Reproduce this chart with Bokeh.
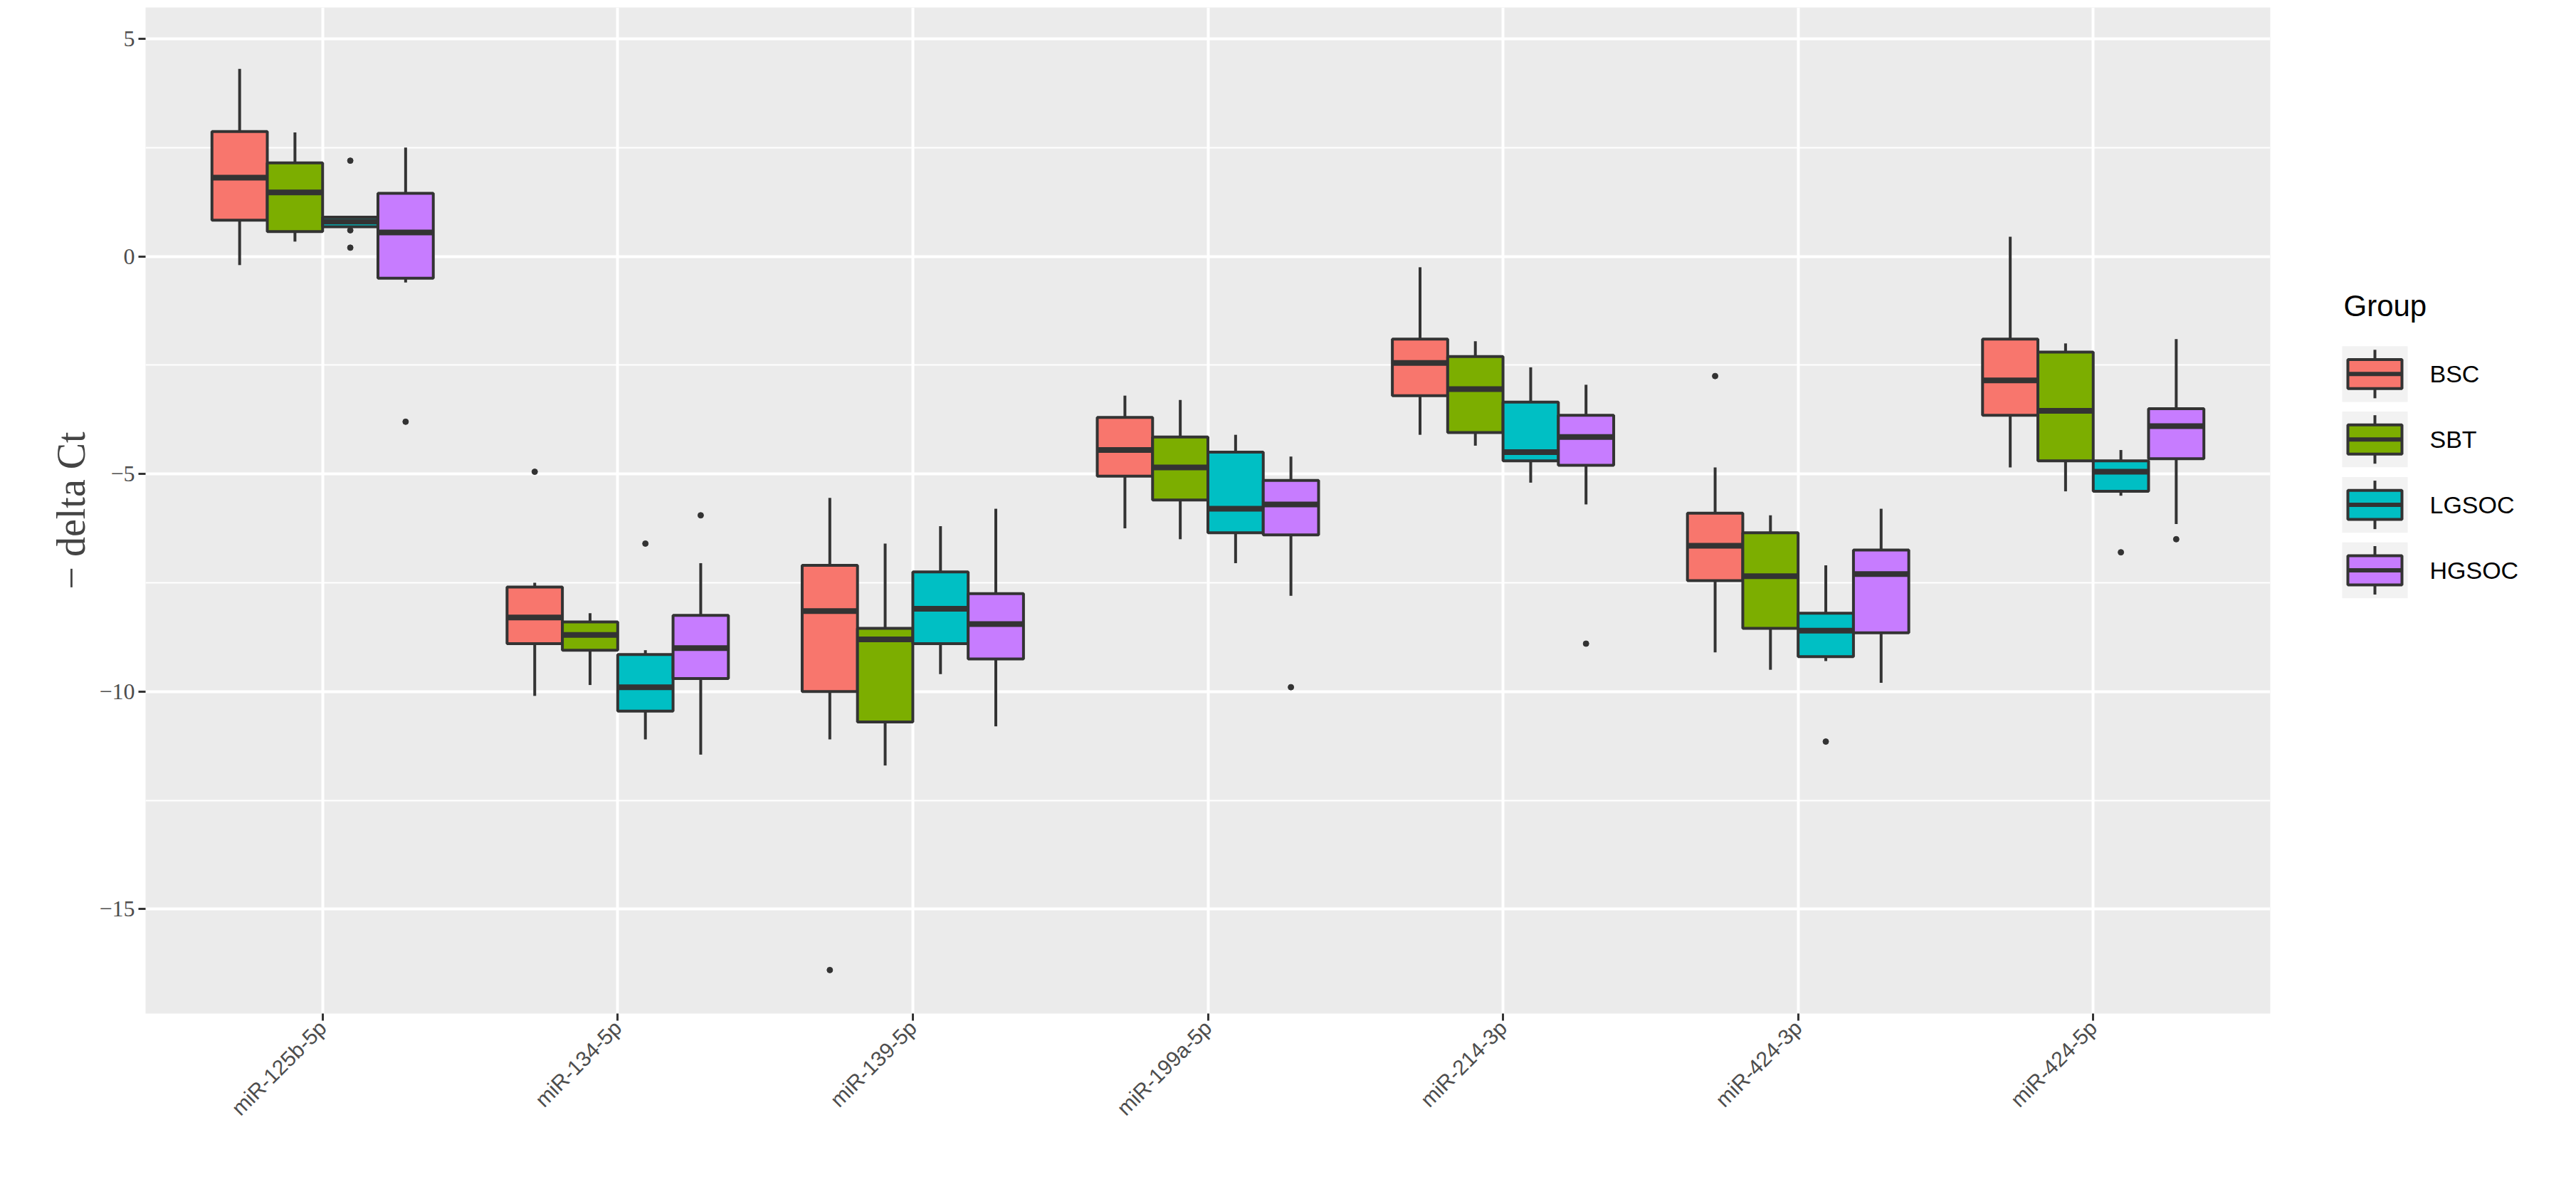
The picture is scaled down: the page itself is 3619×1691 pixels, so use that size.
import numpy as np
from bokeh.plotting import figure
from bokeh.layouts import row
from bokeh.models import FixedTicker
from bokeh.core.properties import value
from bokeh.embed import file_html
from bokeh.resources import INLINE

categories = ["miR-125b-5p", "miR-134-5p", "miR-139-5p", "miR-199a-5p", "miR-214-3p", "miR-424-3p", "miR-424-5p"]
groups = ["BSC", "SBT", "LGSOC", "HGSOC"]
colors = ["#F8766D", "#7CAE00", "#00BFC4", "#C77CFF"]

# per group: [low whisker, Q1, median, Q3, high whisker] for each category
BSC = [[-0.2, 0.83, 1.81, 2.87, 4.31], [-10.1, -8.9, -8.3, -7.6, -7.5], [-11.1, -10.0, -8.15, -7.1, -5.55],
       [-6.25, -5.05, -4.45, -3.7, -3.2], [-4.1, -3.2, -2.45, -1.9, -0.25], [-9.1, -7.45, -6.65, -5.9, -4.85],
       [-4.85, -3.65, -2.85, -1.9, 0.45]]
SBT = [[0.34, 0.57, 1.47, 2.15, 2.85], [-9.85, -9.05, -8.7, -8.4, -8.2], [-11.7, -10.7, -8.8, -8.55, -6.6],
       [-6.5, -5.6, -4.85, -4.15, -3.3], [-4.35, -4.05, -3.05, -2.3, -1.95], [-9.5, -8.55, -7.35, -6.35, -5.95],
       [-5.4, -4.7, -3.55, -2.2, -2.0]]
LGSOC = [[0.68, 0.68, 0.8, 0.9, 0.9], [-11.1, -10.45, -9.9, -9.15, -9.05], [-9.6, -8.9, -8.1, -7.25, -6.2],
         [-7.05, -6.35, -5.8, -4.5, -4.1], [-5.2, -4.7, -4.5, -3.35, -2.55], [-9.3, -9.2, -8.6, -8.2, -7.1],
         [-5.5, -5.4, -4.95, -4.7, -4.45]]
HGSOC = [[-0.6, -0.5, 0.55, 1.45, 2.5], [-11.45, -9.7, -9.0, -8.25, -7.05], [-10.8, -9.25, -8.45, -7.75, -5.8],
         [-7.8, -6.4, -5.7, -5.15, -4.6], [-5.7, -4.8, -4.15, -3.65, -2.95], [-9.8, -8.65, -7.3, -6.75, -5.8],
         [-6.15, -4.65, -3.9, -3.5, -1.9]]
# outliers: (category index, group index, value)
out_cat = [0, 0, 0, 0, 1, 1, 1, 2, 3, 4, 5, 5, 6, 6]
out_grp = [2, 2, 2, 3, 0, 2, 3, 0, 3, 3, 0, 2, 2, 3]
out_val = [2.2, 0.2, 0.6, -3.8, -4.95, -6.6, -5.95, -16.4, -9.9, -8.9, -2.75, -11.15, -6.8, -6.5]

stats = [BSC, SBT, LGSOC, HGSOC]
offsets = [-0.28125, -0.09375, 0.09375, 0.28125]
bw = 0.1875

p = figure(frame_width=2985, frame_height=1413, x_range=(0.4, 7.6), y_range=(-17.4, 5.72),
           output_backend="svg", toolbar_location=None,
           min_border_left=204, min_border_right=10, min_border_top=10, min_border_bottom=240)
p.background_fill_color = "#EBEBEB"
p.outline_line_color = None
p.border_fill_color = "white"

for gi, g in enumerate(groups):
    s = np.array(stats[gi])
    x = np.arange(1, 8) + offsets[gi]
    p.segment(x0=x, y0=s[:, 0], x1=x, y1=s[:, 1], line_color="#333333", line_width=4)
    p.segment(x0=x, y0=s[:, 3], x1=x, y1=s[:, 4], line_color="#333333", line_width=4)
    p.quad(left=x - bw / 2, right=x + bw / 2, bottom=s[:, 1], top=s[:, 3],
           fill_color=colors[gi], line_color="#333333", line_width=4)
    p.segment(x0=x - bw / 2, y0=s[:, 2], x1=x + bw / 2, y1=s[:, 2], line_color="#333333", line_width=8)

ox = [c + 1 + offsets[g] for c, g in zip(out_cat, out_grp)]
p.scatter(ox, out_val, size=8, color="#333333")

p.xaxis.ticker = FixedTicker(ticks=list(range(1, 8)))
p.xaxis.major_label_overrides = {i + 1: c for i, c in enumerate(categories)}
p.xaxis.major_label_orientation = np.pi / 4
p.xaxis.major_label_text_font = "Liberation Sans"
p.xaxis.major_label_text_font_size = "30px"
p.xaxis.major_label_text_color = "#4D4D4D"
p.yaxis.ticker = FixedTicker(ticks=[-15, -10, -5, 0, 5], minor_ticks=[-17.5, -12.5, -7.5, -2.5, 2.5])
p.yaxis.major_label_overrides = {-15: "−15", -10: "−10", -5: "−5", 0: "0", 5: "5"}
p.yaxis.major_label_text_font = "Liberation Serif"
p.yaxis.major_label_text_font_size = "32px"
p.yaxis.major_label_text_color = "#4D4D4D"
p.yaxis.axis_label = "− delta Ct"
p.yaxis.axis_label_text_font = "Liberation Serif"
p.yaxis.axis_label_text_font_style = "normal"
p.yaxis.axis_label_text_font_size = "56px"
for ax in (p.xaxis, p.yaxis):
    ax.axis_line_color = None
    ax.major_tick_line_color = "#333333"
    ax.major_tick_line_width = 3
    ax.major_tick_out = 10
    ax.major_tick_in = 0
    ax.minor_tick_line_color = None
p.xgrid.grid_line_color = "white"
p.xgrid.grid_line_width = 4
p.ygrid.grid_line_color = "white"
p.ygrid.grid_line_width = 4
p.ygrid.minor_grid_line_color = "white"
p.ygrid.minor_grid_line_width = 2

# legend panel (pixel-like coordinates, y downward)
lg = figure(width=390, height=1677, x_range=(0, 390), y_range=(1677, 0),
            output_backend="svg", toolbar_location=None, min_border=0)
lg.axis.visible = False
lg.grid.visible = False
lg.outline_line_color = None
lg.text(x=[93], y=[492], text=["Group"], text_font=value("Liberation Sans"),
        text_font_size="42px", text_baseline="middle", text_color="black")
ky = [605, 713, 821, 929]
kx = 137
for i, g in enumerate(groups):
    y = ky[i]
    lg.quad(left=[kx - 46], right=[kx + 46], top=[y - 46], bottom=[y + 46], fill_color="#F2F2F2", line_color=None)
    lg.segment(x0=[kx], y0=[y - 40], x1=[kx], y1=[y + 40], line_color="#333333", line_width=4)
    lg.quad(left=[kx - 38], right=[kx + 38], top=[y - 24], bottom=[y + 24],
            fill_color=colors[i], line_color="#333333", line_width=4)
    lg.segment(x0=[kx - 38], y0=[y], x1=[kx + 38], y1=[y], line_color="#333333", line_width=6)
    lg.text(x=[214], y=[y], text=[g], text_font=value("Liberation Sans"), text_font_size="34px",
            text_baseline="middle", text_color="black")

open("out.html", "w").write(file_html(row(p, lg), INLINE))
